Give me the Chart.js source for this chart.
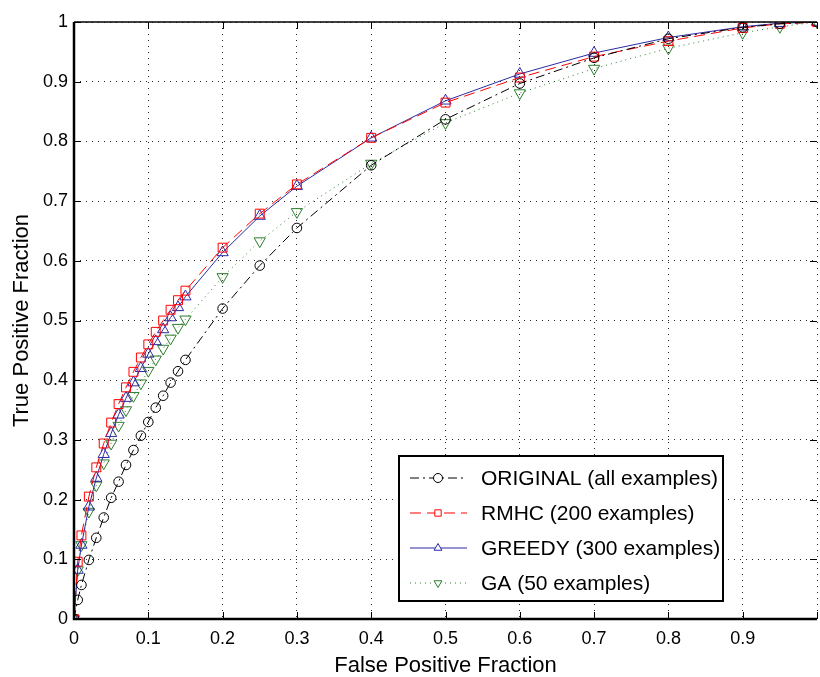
<!DOCTYPE html>
<html>
<head>
<meta charset="utf-8">
<script src="https://cdn.jsdelivr.net/npm/chart.js@4.4.1/dist/chart.umd.min.js"></script>
<style>
  html, body { margin: 0; padding: 0; background: #fff; overflow: hidden; }
  #wrap { width: 820px; height: 677px; overflow: hidden; }
</style>
</head>
<body>
<div id="wrap"><canvas id="roc" width="826" height="677"></canvas></div>
<script>
// ROC curves, values
const fpr = [0, 0.005, 0.01, 0.02, 0.03, 0.04, 0.05, 0.06, 0.07, 0.08, 0.09, 0.10,
             0.11, 0.12, 0.13, 0.14, 0.15, 0.2, 0.25, 0.3, 0.4, 0.5, 0.6, 0.7, 0.8, 0.9, 0.95, 1];

const originalTpf = [0, 0.032, 0.057, 0.099, 0.136, 0.17, 0.203, 0.23, 0.258, 0.283, 0.307, 0.33,
                     0.354, 0.374, 0.396, 0.415, 0.434, 0.52, 0.592, 0.655, 0.76, 0.837, 0.897, 0.94, 0.972, 0.991, 0.997, 1];
const rmhcTpf = [0, 0.096, 0.14, 0.205, 0.254, 0.294, 0.329, 0.36, 0.388, 0.414, 0.438, 0.46,
                 0.481, 0.5, 0.518, 0.534, 0.55, 0.622, 0.679, 0.728, 0.806, 0.865, 0.907, 0.942, 0.968, 0.99, 0.997, 1];
const greedyTpf = [0, 0.082, 0.124, 0.188, 0.236, 0.276, 0.311, 0.342, 0.37, 0.396, 0.42, 0.444,
                   0.465, 0.485, 0.505, 0.522, 0.54, 0.614, 0.675, 0.725, 0.806, 0.868, 0.913, 0.948, 0.974, 0.992, 0.998, 1];
const gaTpf = [0, 0.082, 0.124, 0.18, 0.224, 0.261, 0.294, 0.324, 0.35, 0.374, 0.395, 0.416,
               0.435, 0.453, 0.47, 0.488, 0.502, 0.573, 0.633, 0.682, 0.763, 0.831, 0.881, 0.922, 0.956, 0.982, 0.992, 1];

const seriesNames = ['ORIGINAL (all examples)', 'RMHC (200 examples)', 'GREEDY (300 examples)', 'GA (50 examples)'];
const xTickLabels = ['0', '0.1', '0.2', '0.3', '0.4', '0.5', '0.6', '0.7', '0.8', '0.9', ''];
const yTickLabels = ['0', '0.1', '0.2', '0.3', '0.4', '0.5', '0.6', '0.7', '0.8', '0.9', '1'];

const tickFont = { family: '"Liberation Sans", Arial, sans-serif', size: 18 };
const titleFont = { family: '"Liberation Sans", Arial, sans-serif', size: 22, lineHeight: 1 };

function pts(ys) {
    return fpr.map((x, i) => ({ x: x, y: ys[i] }));
}

// box, inward tick marks (matlab style)
const frame = {
    id: 'frame',
    afterDatasetsDraw(chart) {
        const ctx = chart.ctx;
        const a = chart.chartArea;
        const xs = chart.scales.x, ys = chart.scales.y;
        ctx.save();
        ctx.strokeStyle = '#000';
        ctx.setLineDash([]);
        ctx.lineWidth = 1;
        ctx.beginPath();
        xs.ticks.forEach(t => {
            const px = Math.round(xs.getPixelForValue(t.value)) + 0.5;
            ctx.moveTo(px, a.bottom); ctx.lineTo(px, a.bottom - 7);
            ctx.moveTo(px, a.top); ctx.lineTo(px, a.top + 7);
        });
        ys.ticks.forEach(t => {
            const py = Math.round(ys.getPixelForValue(t.value)) + 0.5;
            ctx.moveTo(a.left, py); ctx.lineTo(a.left + 7, py);
            ctx.moveTo(a.right, py); ctx.lineTo(a.right - 7, py);
        });
        ctx.stroke();
        ctx.lineWidth = 1.5;
        ctx.beginPath();
        ctx.moveTo(a.left, a.top); ctx.lineTo(a.right, a.top);
        ctx.stroke();
        ctx.lineWidth = 2.5;
        ctx.beginPath();
        ctx.moveTo(a.left, a.top); ctx.lineTo(a.left, a.bottom); ctx.lineTo(a.right, a.bottom);
        ctx.stroke();
        ctx.restore();
    }
};

// legend box inside the plot, lower right
const boxLegend = {
    id: 'boxLegend',
    afterDraw(chart) {
        const ctx = chart.ctx;
        const bx = 399, by = 456, bw = 324, bh = 145;
        ctx.save();
        ctx.fillStyle = '#fff';
        ctx.fillRect(bx, by, bw, bh);
        ctx.strokeStyle = '#000';
        ctx.lineWidth = 2;
        ctx.strokeRect(bx, by, bw, bh);
        chart.data.datasets.forEach((ds, i) => {
            const y = 478 + i * 35;
            ctx.strokeStyle = ds.borderColor;
            ctx.lineWidth = 1;
            ctx.setLineDash(ds.borderDash || []);
            ctx.beginPath();
            ctx.moveTo(410, y); ctx.lineTo(467, y);
            ctx.stroke();
            ctx.setLineDash([]);
            ctx.fillStyle = '#fff';
            Chart.helpers.drawPoint(ctx, {
                pointStyle: ds.pointStyle, rotation: ds.pointRotation || 0,
                radius: 4.5, borderWidth: 1
            }, 438, y);
            ctx.fillStyle = '#000';
            ctx.font = '21px "Liberation Sans", Arial, sans-serif';
            ctx.textBaseline = 'middle';
            ctx.fillText(ds.label, 481, y + 1);
        });
        ctx.restore();
    }
};

new Chart(document.getElementById('roc'), {
    type: 'scatter',
    data: {
        datasets: [
            { label: seriesNames[0], data: pts(originalTpf), borderColor: '#000', borderDash: [9, 4, 2, 4],
              pointStyle: 'circle', pointRadius: 4.8 },
            { label: seriesNames[1], data: pts(rmhcTpf), borderColor: '#ff0000', borderDash: [11, 6],
              pointStyle: 'rect', pointRadius: 6.3 },
            { label: seriesNames[2], data: pts(greedyTpf), borderColor: '#2b2ba3', borderDash: [],
              pointStyle: 'triangle', pointRadius: 6.5 },
            { label: seriesNames[3], data: pts(gaTpf), borderColor: '#2e7d2e', borderDash: [1, 4],
              pointStyle: 'triangle', pointRotation: 180, pointRadius: 6.5 }
        ].map(ds => Object.assign({
            showLine: true, borderWidth: 1, backgroundColor: 'rgba(0,0,0,0)',
            pointBorderColor: ds.borderColor, pointBorderWidth: 1, pointBackgroundColor: 'rgba(0,0,0,0)',
            tension: 0
        }, ds))
    },
    options: {
        responsive: false,
        animation: false,
        devicePixelRatio: 1,
        layout: { padding: { top: 22, right: 1, left: 0, bottom: 0 } },
        plugins: { legend: { display: false }, tooltip: { enabled: false } },
        scales: {
            x: {
                type: 'linear', min: 0, max: 1,
                afterFit(s) { s.height = 58; },
                ticks: { stepSize: 0.1, padding: 9, color: '#000', font: tickFont,
                         callback: (v, i) => xTickLabels[i] },
                grid: { drawTicks: false, color: 'rgba(0,0,0,0.85)', lineWidth: 1 },
                border: { display: false, dash: [1, 5] },
                title: { display: true, text: 'False Positive Fraction', color: '#000', font: titleFont,
                         padding: { top: 0, bottom: 0 } }
            },
            y: {
                type: 'linear', min: 0, max: 1,
                afterFit(s) { s.width = 74; },
                ticks: { stepSize: 0.1, padding: 6, color: '#000', font: tickFont,
                         callback: (v, i) => yTickLabels[i] },
                grid: { drawTicks: false, color: 'rgba(0,0,0,0.85)', lineWidth: 1 },
                border: { display: false, dash: [1, 5] },
                title: { display: true, text: 'True Positive Fraction', color: '#000', font: titleFont,
                         padding: { top: 11, bottom: 0 } }
            }
        }
    },
    plugins: [frame, boxLegend]
});
</script>
</body>
</html>
